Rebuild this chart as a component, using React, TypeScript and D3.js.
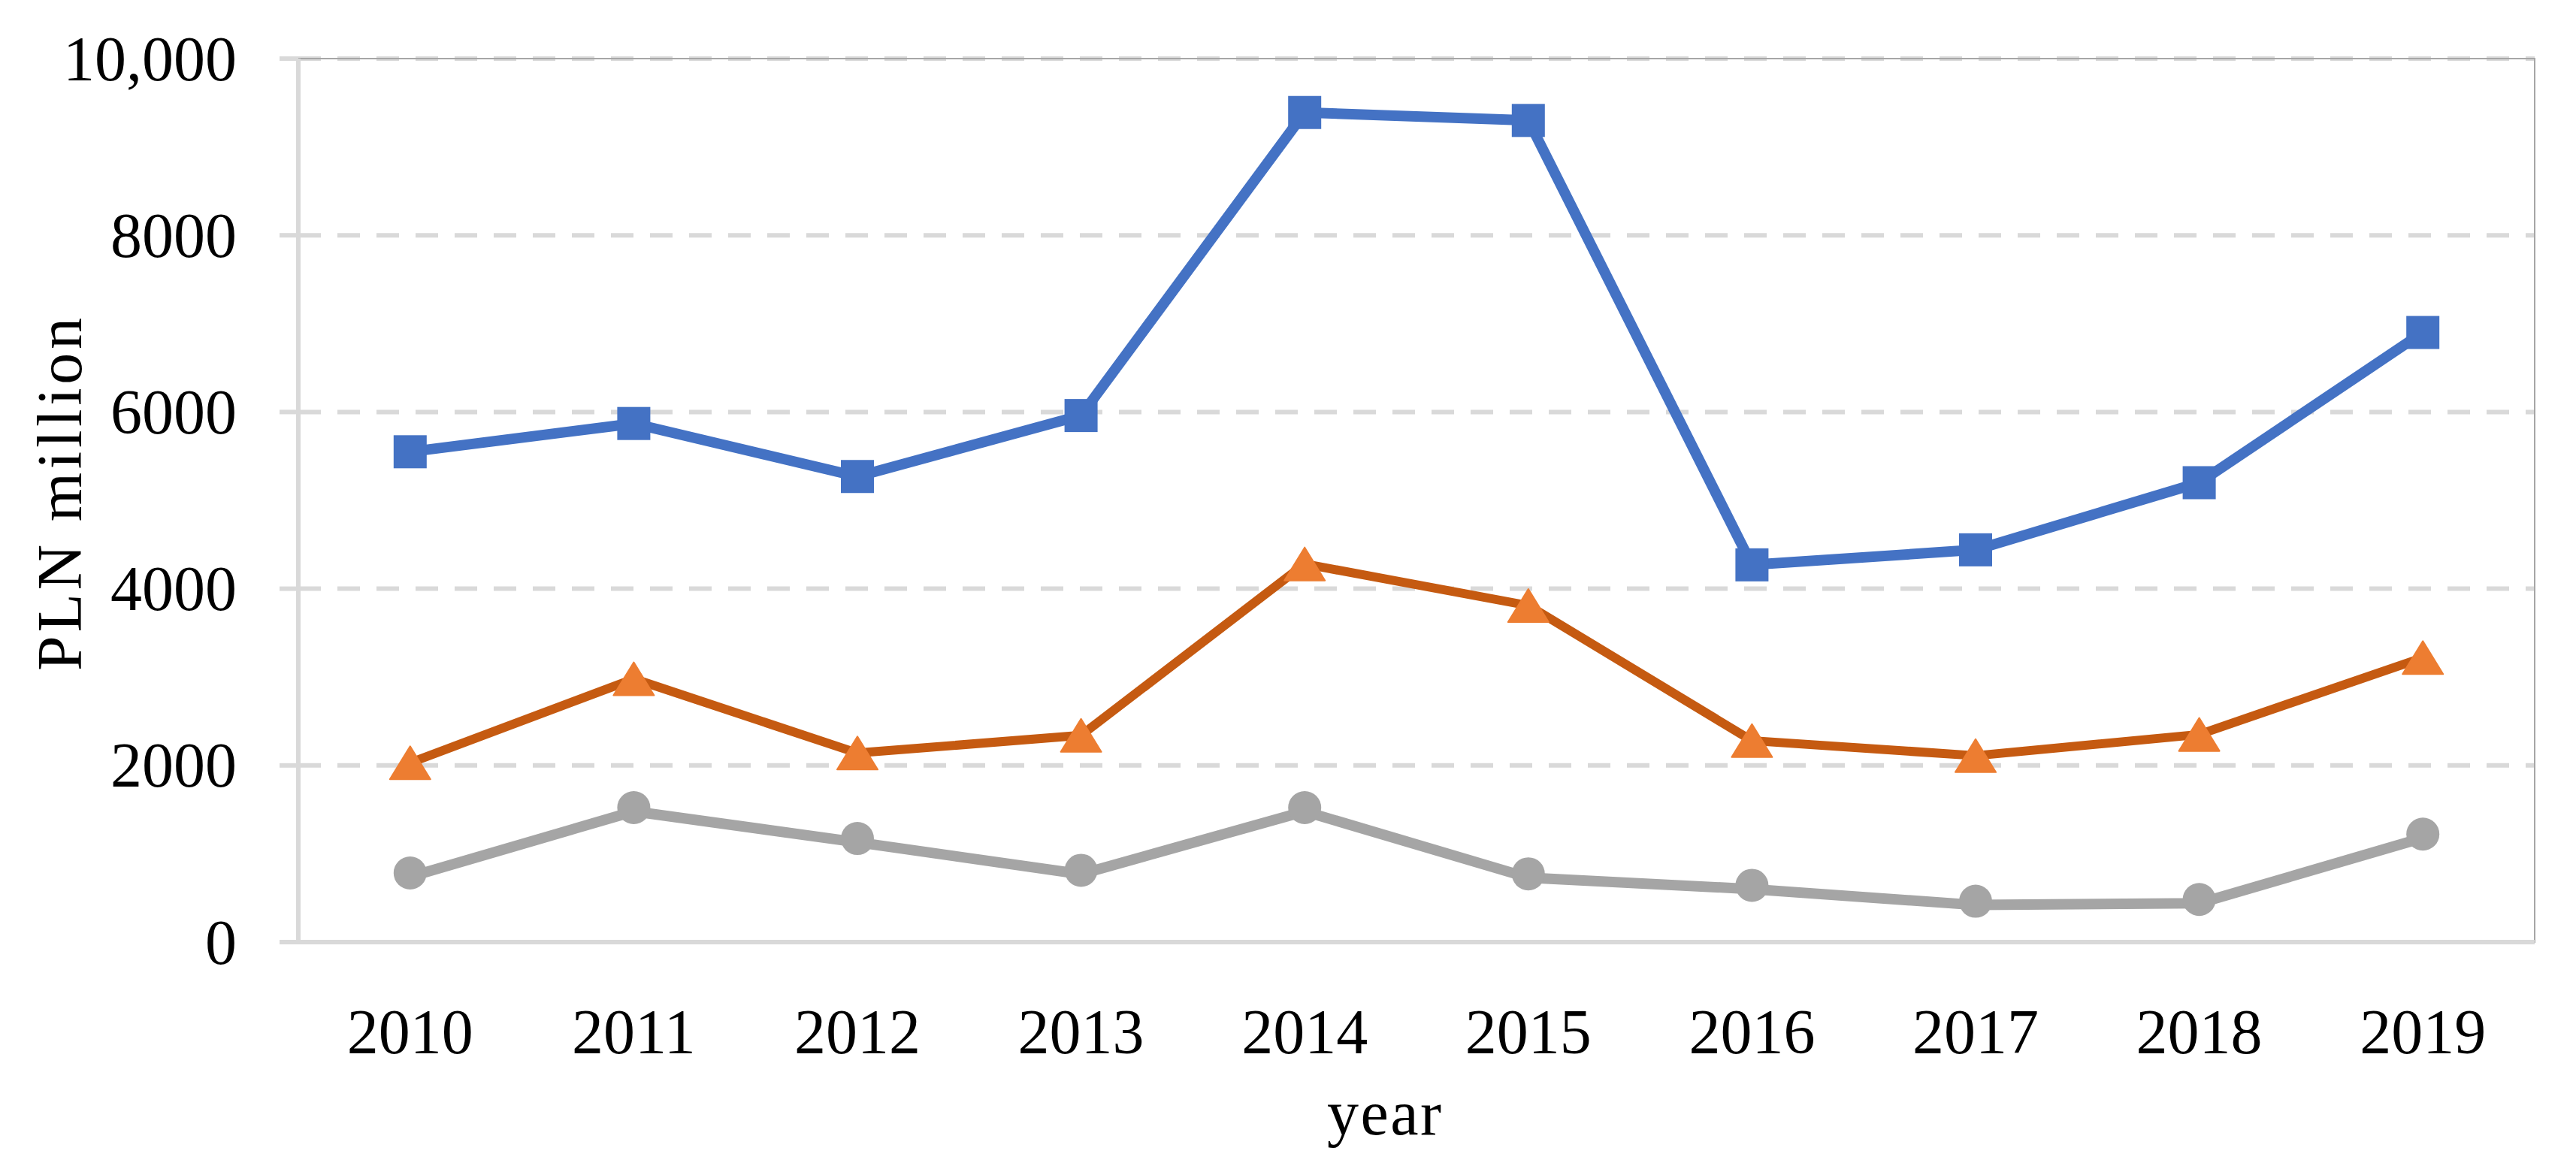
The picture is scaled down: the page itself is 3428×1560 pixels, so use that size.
import React from "react";
import * as d3 from "d3";

const years = ["2010", "2011", "2012", "2013", "2014", "2015", "2016", "2017", "2018", "2019"];
const seriesBlue = [5550, 5870, 5270, 5960, 9390, 9300, 4270, 4440, 5200, 6900];
const seriesOrange = [2030, 2980, 2140, 2340, 4280, 3810, 2280, 2110, 2350, 3220];
const seriesGray = [740, 1480, 1130, 770, 1480, 730, 600, 420, 440, 1180];
const yTicks = [0, 2000, 4000, 6000, 8000, 10000];
const yTickLabels = ["0", "2000", "4000", "6000", "8000", "10,000"];

const W = 3428;
const H = 1560;
const M = { left: 397, right: 3373, top: 78, bottom: 1254 };
const FONT = "'Palatino Linotype', 'Book Antiqua', Palatino, 'Liberation Serif', serif";

export default function App() {
  const x = d3.scaleBand<string>().domain(years).range([M.left, M.right]).padding(0);
  const y = d3.scaleLinear().domain([0, 10000]).range([M.bottom, M.top]);
  const cx = (d: string) => (x(d) as number) + x.bandwidth() / 2;
  const line = d3
    .line<number>()
    .x((_, i) => cx(years[i]))
    .y((v) => y(v));

  const sq = 44;
  const triW = 54;
  const triH = 44;

  return (
    <svg width={W} height={H} style={{ display: "block", position: "absolute", left: 0, top: 0, background: "#fff" }}>
      <rect x={0} y={0} width={W} height={H} fill="#fff" />
      {yTicks.slice(1).map((t) => (
        <line key={t} x1={M.left} x2={M.right} y1={y(t)} y2={y(t)} stroke="#D9D9D9" strokeWidth={6} strokeDasharray="30 22" />
      ))}
      <rect x={M.left} y={M.top} width={M.right - M.left} height={M.bottom - M.top} fill="none" stroke="#A6A6A6" strokeWidth={2} />
      {yTicks.map((t) => (
        <line key={"t" + t} x1={372} x2={M.left} y1={y(t)} y2={y(t)} stroke="#D9D9D9" strokeWidth={6} />
      ))}
      <line x1={M.left} x2={M.left} y1={M.top} y2={M.bottom} stroke="#D9D9D9" strokeWidth={6} />
      <line x1={372} x2={M.right} y1={M.bottom} y2={M.bottom} stroke="#D9D9D9" strokeWidth={6} />
      {yTicks.map((t, i) => (
        <text key={"l" + t} x={315} y={y(t)} dy="0.34em" textAnchor="end" fontFamily={FONT} fontSize={84} fill="#000">
          {yTickLabels[i]}
        </text>
      ))}
      {years.map((yr) => (
        <text key={yr} x={cx(yr)} y={1402} textAnchor="middle" fontFamily={FONT} fontSize={84} fill="#000">
          {yr}
        </text>
      ))}
      <text x={1842} y={1510} textAnchor="middle" fontFamily={FONT} fontSize={84} fill="#000" textLength={152} lengthAdjust="spacing">
        year
      </text>
      <text
        transform={`translate(108,658) rotate(-90)`}
        textAnchor="middle"
        fontFamily={FONT}
        fontSize={84}
        fill="#000"
        textLength={470}
        lengthAdjust="spacing"
      >
        PLN million
      </text>

      <path d={line(seriesGray) as string} fill="none" stroke="#A5A5A5" strokeWidth={14} strokeLinejoin="round" />
      {seriesGray.map((v, i) => (
        <circle key={"g" + i} cx={cx(years[i])} cy={y(v) - 5} r={22} fill="#A5A5A5" />
      ))}
      <path d={line(seriesOrange) as string} fill="none" stroke="#C55A11" strokeWidth={12} strokeLinejoin="round" />
      {seriesOrange.map((v, i) => {
        const px = cx(years[i]);
        const py = y(v);
        return (
          <path
            key={"o" + i}
            d={`M${px},${py - triH / 2}L${px + triW / 2},${py + triH / 2}L${px - triW / 2},${py + triH / 2}Z`}
            fill="#ED7D31"
            stroke="#ED7D31"
            strokeWidth={2}
            strokeLinejoin="round"
          />
        );
      })}
      <path d={line(seriesBlue) as string} fill="none" stroke="#4472C4" strokeWidth={14} strokeLinejoin="round" />
      {seriesBlue.map((v, i) => (
        <rect key={"b" + i} x={cx(years[i]) - sq / 2} y={y(v) - sq / 2} width={sq} height={sq} fill="#4472C4" />
      ))}
    </svg>
  );
}
